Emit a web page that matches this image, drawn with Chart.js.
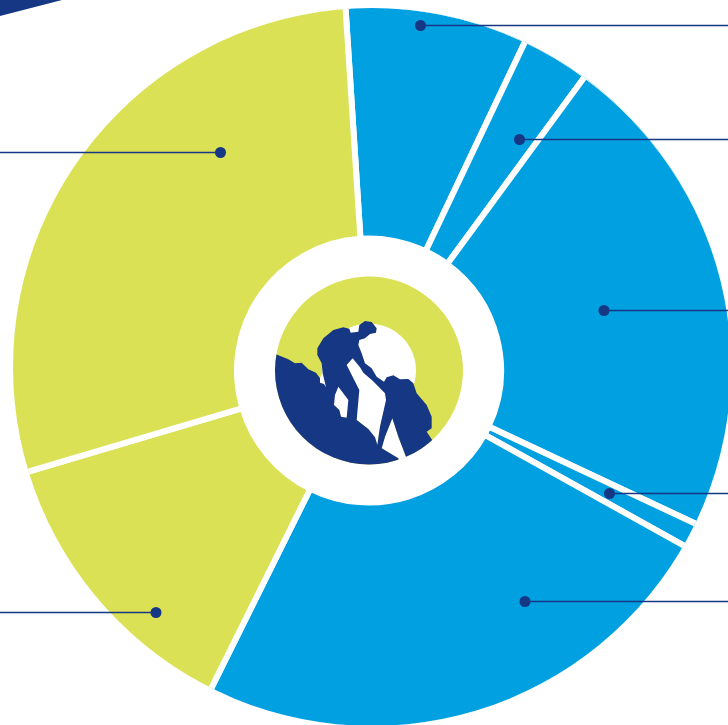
<!DOCTYPE html>
<html>
<head>
<meta charset="utf-8">
<title>Doughnut</title>
<script src="https://cdn.jsdelivr.net/npm/chart.js@4"></script>
<style>
    html, body { margin: 0; padding: 0; background: #fff; overflow: hidden; }
    #pieCanvas { position: absolute; left: 0; top: 0; }
</style>
</head>
<body>
<canvas id="pieCanvas" width="738" height="741"></canvas>
<script>
// Slice shares in percent, clockwise from the top
const shares = [8.08, 3.03, 21.9, 1.1, 24.25, 13.08, 28.56];
const groups = ['blue', 'blue', 'blue', 'blue', 'blue', 'yellow', 'yellow'];

const BLUE = '#00a0e1';
const YELLOW = '#dbe155';
const NAVY = '#163783';

const groupColors = { blue: BLUE, yellow: YELLOW };

// Callouts: dot offset from the chart centre, and the page edge the line runs to
const callouts = [
    { dx: 51.5, dy: -345.5, toX: 728 },
    { dx: 150.5, dy: -231.5, toX: 728 },
    { dx: 235, dy: -60.5, toX: 728 },
    { dx: 240.5, dy: 122.5, toX: 728 },
    { dx: 156, dy: 230.5, toX: 728 },
    { dx: -148.5, dy: -218.5, toX: 0 },
    { dx: -213, dy: 241.5, toX: 0 },
];

// Climbers and rock, traced on a 3x grid; the part past the ring gets clipped
const climbersOutline = [
    [138,373],[175,388],[195,400],[215,398],[235,418],[258,428],[270,445],[270,458],[282,462],[288,472],
    [278,430],[275,400],[262,375],[262,355],[280,325],[310,300],[340,292],[358,296],[362,308],[385,305],
    [388,285],[405,273],[425,276],[440,295],[438,308],[420,312],[405,325],[388,330],[385,345],[395,370],
    [405,400],[425,415],[440,440],[462,455],[470,442],[490,436],[510,448],[535,447],[550,460],[560,490],
    [590,525],[605,560],[605,595],[590,605],[605,628],[640,680],[560,730],[528,680],[505,620],[487,565],
    [465,620],[455,655],[505,685],[507,692],[507,730],[400,750],[250,720],[90,600],[90,370],
];
const climbersGapA = [
    [350,405],[368,385],[390,412],[400,428],[428,452],[465,490],[468,510],[450,590],[442,645],[435,622],
    [415,597],[380,570],[388,480],
];
const climbersGapB = [
    [325,470],[355,510],[350,563],[333,560],[328,540],[312,525],[315,495],
];
// White showing through between the legs and under the arm
const climbersNotch = [
    [528,680],[505,620],[487,565],[465,620],[455,655],[505,685],[507,730],[535,730],
];
const climbersSliver = [
    [270,445],[278,425],[292,440],[292,476],[270,462],
];

function tracePolygon(ctx, points) {
    ctx.moveTo(points[0][0], points[0][1]);
    points.slice(1).forEach(p => ctx.lineTo(p[0], p[1]));
    ctx.closePath();
}

// The outer edge sits a little off the hub, so the big ring is clipped to its own circle
const outerEdgePlugin = {
    id: 'outerEdge',
    beforeDatasetDraw(chart, args) {
        if (args.index !== 0) { return; }
        const ctx = chart.ctx;
        ctx.save();
        ctx.beginPath();
        ctx.arc(372, 367, 359, 0, Math.PI * 2);
        ctx.clip();
    },
    afterDatasetDraw(chart, args) {
        if (args.index === 0) { chart.ctx.restore(); }
    },
};

const decorationsPlugin = {
    id: 'decorations',
    afterDraw(chart) {
        const ctx = chart.ctx;
        const arc = chart.getDatasetMeta(0).data[0];
        const cx = arc.x;
        const cy = arc.y;

        ctx.save();

        // corner wedge
        ctx.fillStyle = NAVY;
        ctx.beginPath();
        ctx.moveTo(0, 0);
        ctx.lineTo(62, 0);
        ctx.lineTo(0, 16);
        ctx.closePath();
        ctx.fill();

        // callout lines and dots
        ctx.strokeStyle = NAVY;
        ctx.lineWidth = 1.4;
        callouts.forEach(c => {
            const x = cx + c.dx;
            const y = Math.round(cy + c.dy) + 0.5;
            ctx.beginPath();
            ctx.moveTo(x, y);
            ctx.lineTo(c.toX, y);
            ctx.stroke();
            ctx.beginPath();
            ctx.arc(x, y, 5.5, 0, Math.PI * 2);
            ctx.fill();
        });

        // hub picture
        ctx.beginPath();
        ctx.arc(cx, cy, 94, 0, Math.PI * 2);
        ctx.clip();
        ctx.translate(cx - 139, cy - 140.5);
        ctx.scale(1 / 3, 1 / 3);

        ctx.fillStyle = '#fff';
        ctx.beginPath();
        tracePolygon(ctx, climbersNotch);
        tracePolygon(ctx, climbersSliver);
        tracePolygon(ctx, climbersGapA);
        tracePolygon(ctx, climbersGapB);
        ctx.fill();

        ctx.fillStyle = NAVY;
        ctx.beginPath();
        tracePolygon(ctx, climbersOutline);
        tracePolygon(ctx, climbersGapA);
        tracePolygon(ctx, climbersGapB);
        ctx.fill('evenodd');

        ctx.restore();
    },
};

new Chart(document.getElementById('pieCanvas'), {
    type: 'doughnut',
    data: {
        labels: shares.map((_, i) => 'Part ' + (i + 1)),
        datasets: [
            {
                data: shares,
                backgroundColor: groups.map(g => groupColors[g]),
                borderColor: '#fff',
                borderWidth: 6,
                weight: 234,
            },
            // white gap between the big ring and the hub
            { data: [1], backgroundColor: 'rgba(0,0,0,0)', borderWidth: 0, weight: 38 },
            { data: [1], backgroundColor: YELLOW, borderWidth: 0, weight: 47 },
        ],
    },
    options: {
        responsive: false,
        animation: false,
        cutout: 47,
        rotation: -3.7,
        events: [],
        plugins: {
            legend: { display: false },
            tooltip: { enabled: false },
        },
    },
    plugins: [outerEdgePlugin, decorationsPlugin],
});
</script>
</body>
</html>
